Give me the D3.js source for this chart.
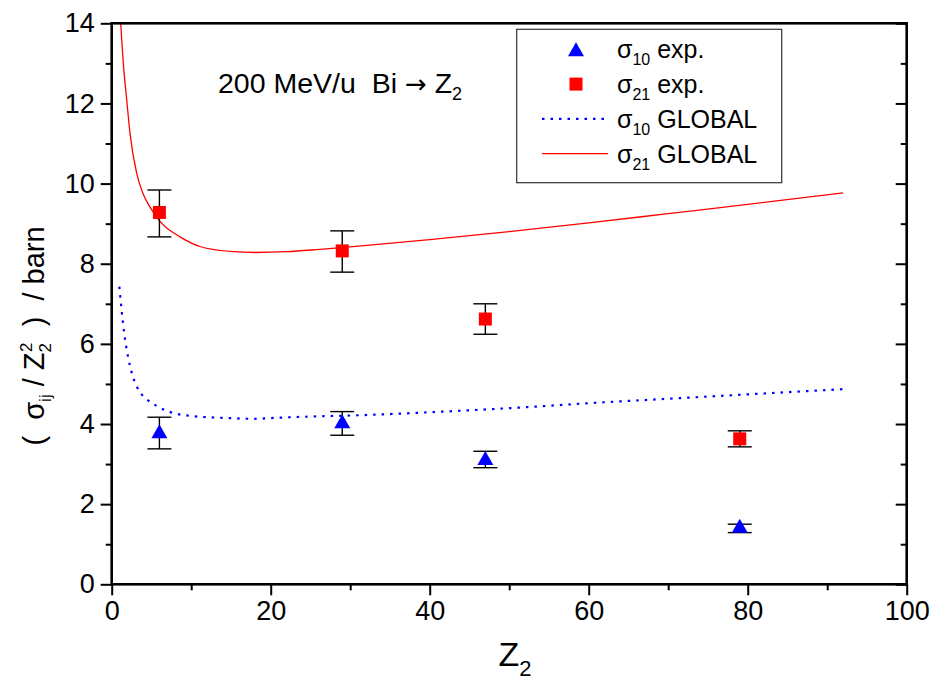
<!DOCTYPE html>
<html><head><meta charset="utf-8">
<script src="https://cdn.jsdelivr.net/npm/d3@7"></script>
<style>body{margin:0;background:#fff}svg{display:block;font-family:"Liberation Sans",Arial,sans-serif}text{white-space:pre}</style>
</head><body><svg id="c" width="933" height="680"></svg>
<script>
// ---- data ----
const expZ = [6, 29, 47, 79];
const s10 = [3.82, 4.07, 3.15, 1.46];
const s10Lo = [3.38, 3.72, 2.91, 1.29];
const s10Hi = [4.17, 4.31, 3.32, 1.50];
const s21 = [9.28, 8.32, 6.62, 3.63];
const s21Lo = [8.67, 7.79, 6.24, 3.43];
const s21Hi = [9.84, 8.82, 7.00, 3.83];
const g10Z = [0.96, 1.55, 2.09, 2.64, 3.65, 4.65, 5.66, 7.84, 10.06, 14.5, 17.8, 21.2, 25.8, 31.2, 41.7, 53, 60, 70, 80, 92];
const g10V = [7.43, 6.30, 5.64, 5.20, 4.77, 4.58, 4.45, 4.27, 4.20, 4.15, 4.13, 4.16, 4.19, 4.22, 4.31, 4.43, 4.52, 4.63, 4.74, 4.87];
const g21Z = [1.13, 1.5, 1.89, 2.3, 3.14, 4.0, 4.8, 6.1, 8.6, 11.1, 15.3, 18.1, 22, 26.2, 30, 40, 50, 60, 70, 80, 92];
const g21V = [14.0, 12.9, 12.09, 11.26, 10.26, 9.72, 9.42, 9.05, 8.67, 8.43, 8.30, 8.28, 8.30, 8.36, 8.42, 8.60, 8.80, 9.02, 9.25, 9.48, 9.77];
const xMajor = [0, 20, 40, 60, 80, 100];
const xMinor = [10, 30, 50, 70, 90];
const yMajor = [0, 2, 4, 6, 8, 10, 12, 14];
const yMinor = [1, 3, 5, 7, 9, 11, 13];

const svg = d3.select("#c");
const L = 111.7, R = 906.7, T = 23.3, B = 584.3;
const x = d3.scaleLinear().domain([0, 100]).range([L, R]);
const y = d3.scaleLinear().domain([0, 14]).range([B, T]);

svg.append("clipPath").attr("id", "clip").append("rect")
  .attr("x", L).attr("y", T).attr("width", R - L).attr("height", B - T);

const plot = svg.append("g").attr("clip-path", "url(#clip)");
const line = d3.line().curve(d3.curveMonotoneX).x(d => x(d[0])).y(d => y(d[1]));

plot.append("path").datum(g21Z.map((z, i) => [z, g21V[i]]))
  .attr("d", line).attr("fill", "none").attr("stroke", "#ff0000").attr("stroke-width", 1.3);
plot.append("path").datum(g10Z.map((z, i) => [z, g10V[i]]))
  .attr("d", line).attr("fill", "none").attr("stroke", "#0000ff").attr("stroke-width", 2.2)
  .attr("stroke-dasharray", "2.5,6");

// error bars
function errBars(lo, hi) {
  const g = svg.append("g").attr("stroke", "#000").attr("stroke-width", 1.4);
  expZ.forEach((z, i) => {
    const cx = x(z);
    g.append("line").attr("x1", cx).attr("x2", cx).attr("y1", y(lo[i])).attr("y2", y(hi[i]));
    g.append("line").attr("x1", cx - 12).attr("x2", cx + 12).attr("y1", y(lo[i])).attr("y2", y(lo[i]));
    g.append("line").attr("x1", cx - 12).attr("x2", cx + 12).attr("y1", y(hi[i])).attr("y2", y(hi[i]));
  });
}
errBars(s21Lo, s21Hi);
errBars(s10Lo, s10Hi);

const tri = (cx, cy) => `M${cx},${cy - 7}L${cx + 8},${cy + 7}L${cx - 8},${cy + 7}Z`;
svg.append("g").selectAll("path").data(expZ).join("path")
  .attr("d", (z, i) => tri(x(z), y(s10[i]))).attr("fill", "#0000ff");
svg.append("g").selectAll("rect").data(expZ).join("rect")
  .attr("x", (z) => x(z) - 6.5).attr("y", (z, i) => y(s21[i]) - 6.5)
  .attr("width", 13).attr("height", 13).attr("fill", "#ff0000");

// axes
function styleAxis(g) {
  g.select(".domain").remove();
  g.selectAll("line").attr("stroke", "#000").attr("stroke-width", 2);
  g.selectAll("text").attr("font-size", 27).attr("fill", "#000")
    .attr("font-family", '"Liberation Sans",Arial,sans-serif');
}
svg.append("g").attr("transform", `translate(0,${B})`)
  .call(d3.axisBottom(x).tickValues(xMajor).tickSize(11).tickPadding(6).tickFormat(d3.format("d")))
  .call(styleAxis);
svg.append("g").attr("transform", `translate(0,${B})`)
  .call(d3.axisBottom(x).tickValues(xMinor).tickSize(6).tickFormat(""))
  .call(styleAxis);
svg.append("g").attr("transform", `translate(${L},0)`)
  .call(d3.axisLeft(y).tickValues(yMajor).tickSize(11).tickPadding(6).tickFormat(d3.format("d")))
  .call(styleAxis);
svg.append("g").attr("transform", `translate(${L},0)`)
  .call(d3.axisLeft(y).tickValues(yMinor).tickSize(6).tickFormat(""))
  .call(styleAxis);
svg.append("g").attr("transform", `translate(${R},0)`)
  .call(d3.axisLeft(y).tickValues(yMajor).tickSize(11).tickFormat(""))
  .call(styleAxis);
svg.append("g").attr("transform", `translate(${R},0)`)
  .call(d3.axisLeft(y).tickValues(yMinor).tickSize(6).tickFormat(""))
  .call(styleAxis);

svg.append("rect").attr("x", L).attr("y", T).attr("width", R - L).attr("height", B - T)
  .attr("fill", "none").attr("stroke", "#000").attr("stroke-width", 2.6);

// annotation
const ann = svg.append("text").attr("x", 218).attr("y", 93).attr("font-size", 28.5).attr("fill", "#000");
ann.append("tspan").text("200 MeV/u  Bi ");
ann.append("tspan").attr("font-family", '"DejaVu Sans",sans-serif').attr("font-size", 26).text("\u2192");
ann.append("tspan").text(" Z");
ann.append("tspan").attr("font-size", 18).attr("dy", 7).text("2");

// legend
svg.append("rect").attr("x", 516.7).attr("y", 29.3).attr("width", 265).attr("height", 153.4)
  .attr("fill", "#fff").attr("stroke", "#333").attr("stroke-width", 1.2);
const legRows = [
  { sub: "10", txt: " exp.", type: "tri" },
  { sub: "21", txt: " exp.", type: "sq" },
  { sub: "10", txt: " GLOBAL", type: "dot" },
  { sub: "21", txt: " GLOBAL", type: "line" }
];
legRows.forEach((r, i) => {
  const base = 58.3 + i * 34.8;
  const cy = base - 9;
  if (r.type === "tri") svg.append("path").attr("d", tri(576, cy)).attr("fill", "#0000ff");
  if (r.type === "sq") svg.append("rect").attr("x", 569.5).attr("y", cy - 6.5).attr("width", 13).attr("height", 13).attr("fill", "#ff0000");
  if (r.type === "dot") svg.append("line").attr("x1", 542).attr("x2", 608).attr("y1", cy).attr("y2", cy)
    .attr("stroke", "#0000ff").attr("stroke-width", 2.2).attr("stroke-dasharray", "2.5,6");
  if (r.type === "line") svg.append("line").attr("x1", 542).attr("x2", 608).attr("y1", cy).attr("y2", cy)
    .attr("stroke", "#ff0000").attr("stroke-width", 1.3);
  const t = svg.append("text").attr("x", 617).attr("y", base).attr("font-size", 25).attr("fill", "#000");
  t.append("tspan").text("\u03C3");
  t.append("tspan").attr("font-size", 16).attr("dy", 7).text(r.sub);
  t.append("tspan").attr("dy", -7).text(r.txt);
});

// y label
const yl = svg.append("text").attr("transform", "translate(44,336) rotate(-90)")
  .attr("text-anchor", "middle").attr("font-size", 29).attr("fill", "#000");
yl.append("tspan").text("(  \u03C3");
yl.append("tspan").attr("font-size", 17).attr("dy", 7).text("ij");
yl.append("tspan").attr("dy", -7).text(" / Z");
yl.append("tspan").attr("font-size", 17).attr("dy", 7).text("2");
yl.append("tspan").attr("font-size", 17).attr("dx", -9).attr("dy", -19).text("2");
yl.append("tspan").attr("dy", 12).text("  )  / barn");

// x label
const xl = svg.append("text").attr("x", 515).attr("y", 666).attr("text-anchor", "middle")
  .attr("font-size", 34).attr("fill", "#000");
xl.append("tspan").text("Z");
xl.append("tspan").attr("font-size", 22).attr("dy", 10).text("2");
</script></body></html>
